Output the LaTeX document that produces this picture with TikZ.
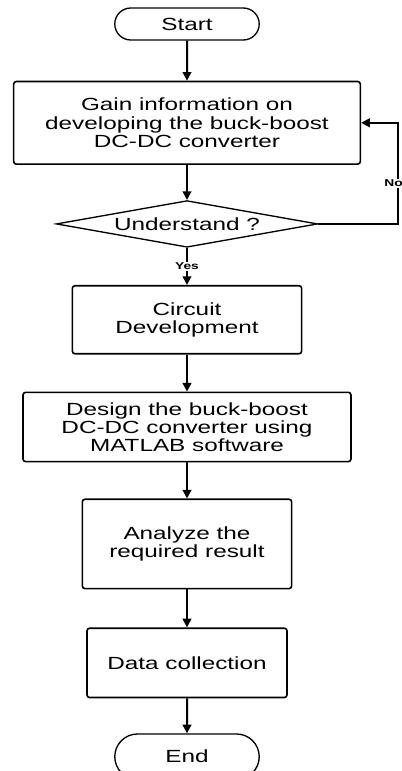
\documentclass[tikz,border=0pt]{standalone}
\usepackage{fontspec}
\setmainfont[FakeStretch=1.38]{Liberation Sans}
\usepackage{tikz}
\usetikzlibrary{arrows.meta,positioning,shapes.geometric,shapes.misc}
\newcommand\boxfont{\fontsize{13.2}{13.6}\selectfont}

\begin{document}
\begin{tikzpicture}[
    node distance=27pt,
    terminal/.style={rounded rectangle, draw, line width=1pt, minimum width=115pt, minimum height=24pt, font=\boxfont},
    process/.style={rectangle, draw, rounded corners=2pt, line width=1.2pt, align=center, inner sep=2pt, font=\boxfont},
    decision/.style={diamond, draw, aspect=5.6, line width=1pt, minimum width=196pt, minimum height=35pt, inner sep=0pt, font=\boxfont},
    lbl/.style={fill=white, inner sep=1pt, font=\fontsize{7.5}{8}\selectfont\bfseries},
    arr/.style={-{Triangle[length=6.5pt, width=6.5pt]}, line width=1.5pt}
]
\useasboundingbox (-140.25pt,18pt) rectangle (161.25pt,-560.25pt);

\node[terminal] (start) {Start};
\node[process, below=30pt of start, minimum width=260pt, minimum height=62pt] (gain) {Gain information on\\developing the buck-boost\\DC-DC converter};
\node[decision, below=26.25pt of gain] (check) {Understand ?};
\node[process, below=27.75pt of check, minimum width=172pt, minimum height=51pt] (circuit) {Circuit\\Development};
\node[process, below=27.75pt of circuit, minimum width=246pt, minimum height=52pt] (design) {Design the buck-boost\\DC-DC converter using\\MATLAB software};
\node[process, below=27pt of design, minimum width=157pt, minimum height=67pt] (analyze) {Analyze the\\required result};
\node[process, below=28.5pt of analyze, minimum width=150pt, minimum height=52pt] (data) {Data collection};
\node[terminal, below=26.25pt of data, minimum height=34pt] (end) {End};

\draw[arr] (start) -- (gain);
\draw[arr] (gain) -- (check);
\draw[arr] (check) -- node[lbl]{Yes} (circuit);
\draw[arr] (check.east) -- ++(60pt,0) |- node[lbl, pos=0.2, xshift=-3.5pt]{No} (gain.east);
\draw[arr] (circuit) -- (design);
\draw[arr] (design) -- (analyze);
\draw[arr] (analyze) -- (data);
\draw[arr] (data) -- (end);

\end{tikzpicture}
\end{document}
